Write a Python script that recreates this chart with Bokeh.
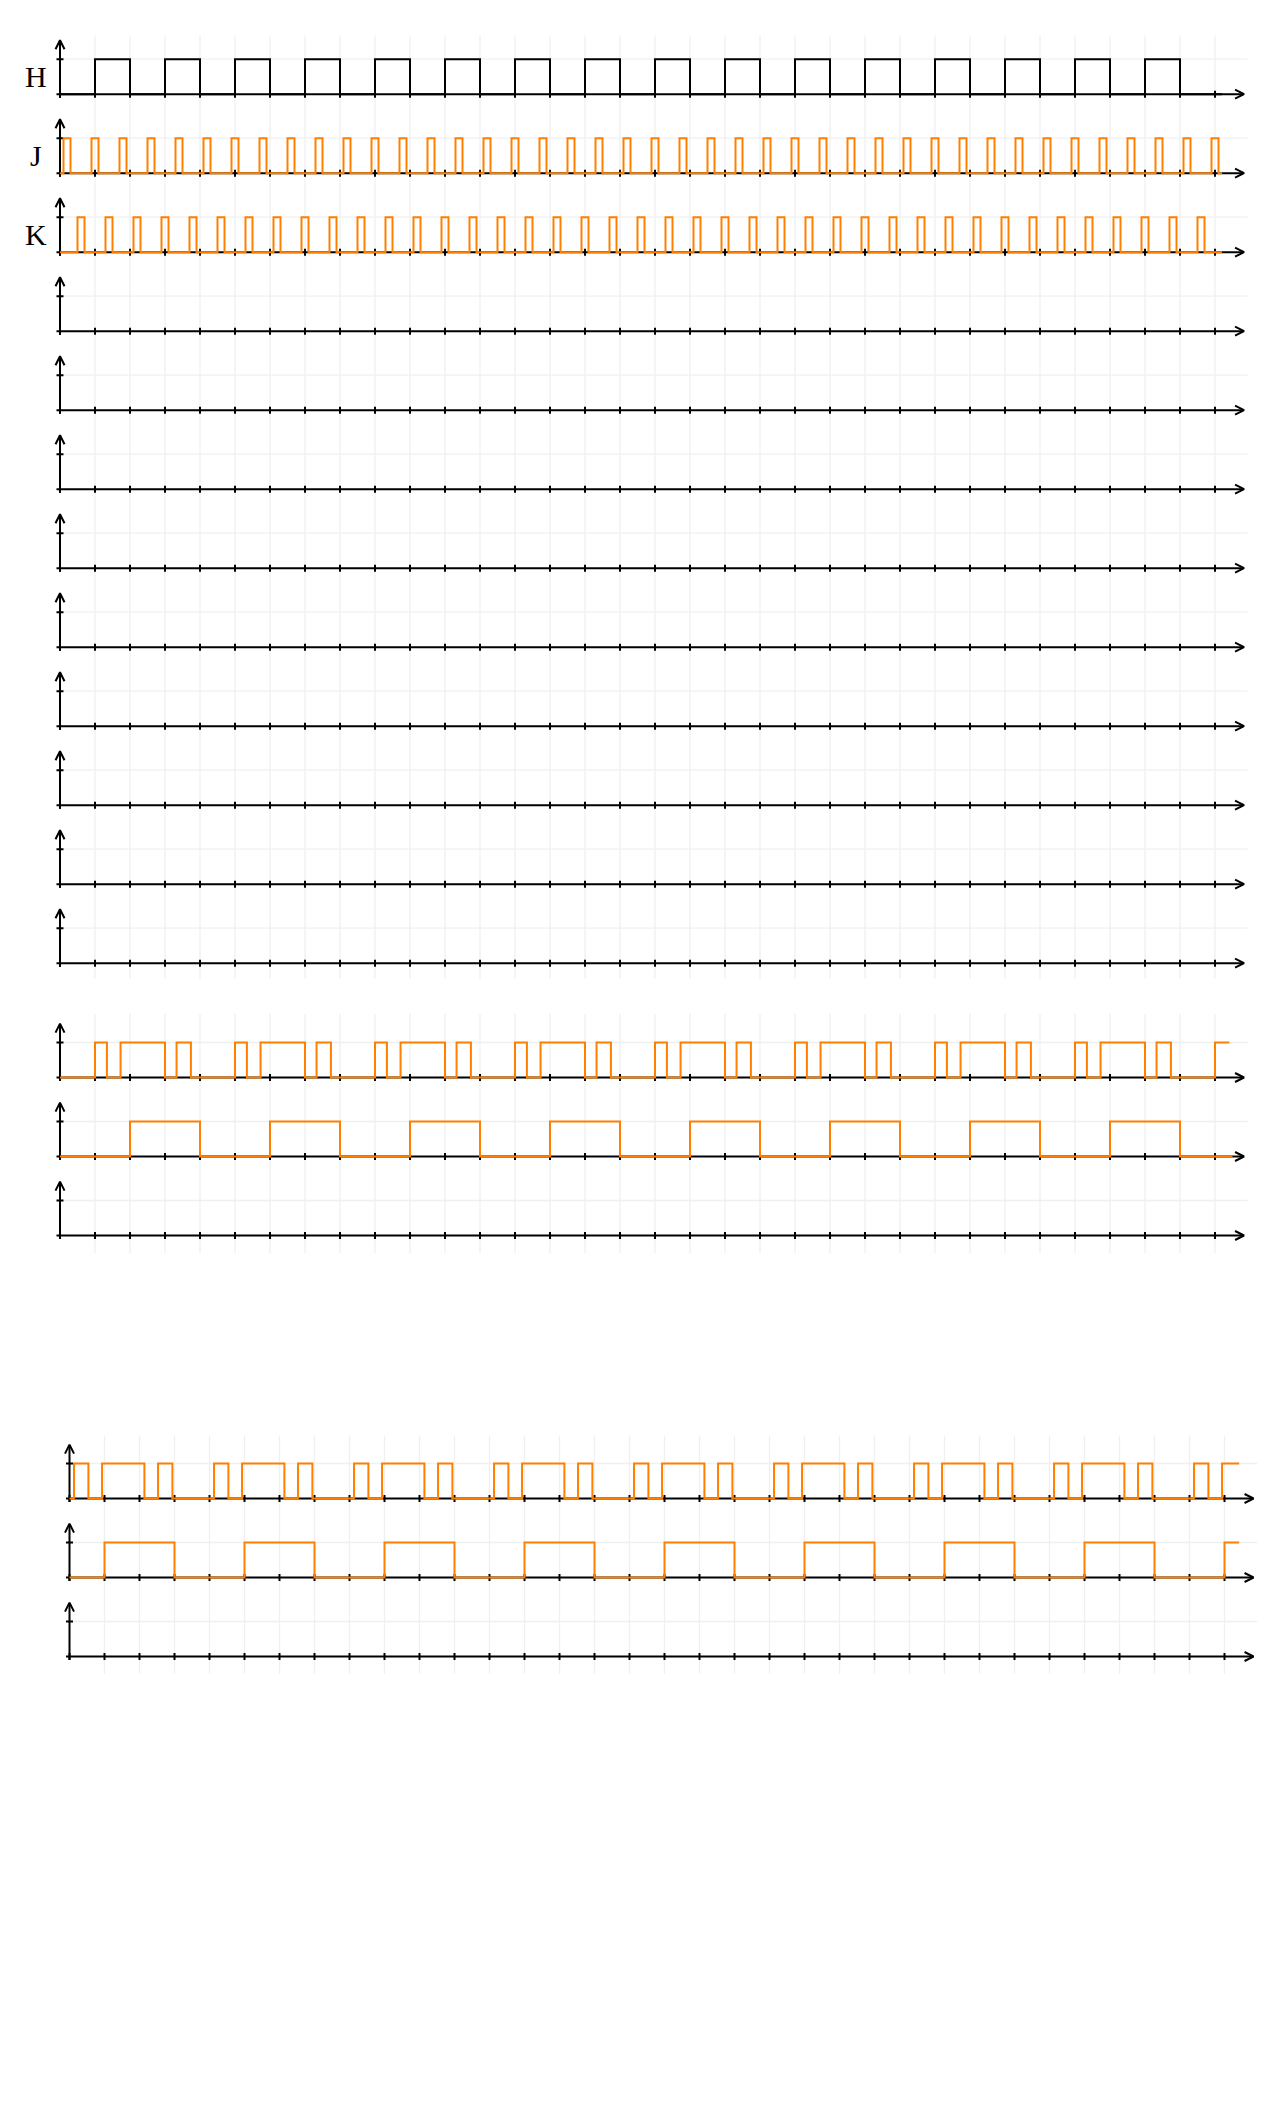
from bokeh.plotting import figure
from bokeh.models import Range1d, Arrow, OpenHead
from bokeh.core.properties import value
from bokeh.embed import file_html
from bokeh.resources import INLINE

# ---------------- data (time in clock units, levels 0/1) ----------------
labels = ["H", "J", "K"]
x_ticks = list(range(34))

H_rise = [1, 3, 5, 7, 9, 11, 13, 15, 17, 19, 21, 23, 25, 27, 29, 31]
H_fall = [2, 4, 6, 8, 10, 12, 14, 16, 18, 20, 22, 24, 26, 28, 30, 32]

J_rise = [0.1, 0.9, 1.7, 2.5, 3.3, 4.1, 4.9, 5.7, 6.5, 7.3, 8.1, 8.9, 9.7, 10.5,
          11.3, 12.1, 12.9, 13.7, 14.5, 15.3, 16.1, 16.9, 17.7, 18.5, 19.3, 20.1,
          20.9, 21.7, 22.5, 23.3, 24.1, 24.9, 25.7, 26.5, 27.3, 28.1, 28.9, 29.7,
          30.5, 31.3, 32.1, 32.9]
J_fall = [0.3, 1.1, 1.9, 2.7, 3.5, 4.3, 5.1, 5.9, 6.7, 7.5, 8.3, 9.1, 9.9, 10.7,
          11.5, 12.3, 13.1, 13.9, 14.7, 15.5, 16.3, 17.1, 17.9, 18.7, 19.5, 20.3,
          21.1, 21.9, 22.7, 23.5, 24.3, 25.1, 25.9, 26.7, 27.5, 28.3, 29.1, 29.9,
          30.7, 31.5, 32.3, 33.1]

K_rise = [0.5, 1.3, 2.1, 2.9, 3.7, 4.5, 5.3, 6.1, 6.9, 7.7, 8.5, 9.3, 10.1, 10.9,
          11.7, 12.5, 13.3, 14.1, 14.9, 15.7, 16.5, 17.3, 18.1, 18.9, 19.7, 20.5,
          21.3, 22.1, 22.9, 23.7, 24.5, 25.3, 26.1, 26.9, 27.7, 28.5, 29.3, 30.1,
          30.9, 31.7, 32.5]
K_fall = [0.7, 1.5, 2.3, 3.1, 3.9, 4.7, 5.5, 6.3, 7.1, 7.9, 8.7, 9.5, 10.3, 11.1,
          11.9, 12.7, 13.5, 14.3, 15.1, 15.9, 16.7, 17.5, 18.3, 19.1, 19.9, 20.7,
          21.5, 22.3, 23.1, 23.9, 24.7, 25.5, 26.3, 27.1, 27.9, 28.7, 29.5, 30.3,
          31.1, 31.9, 32.7]

# second block, row 1 and row 2
A_rise = [1, 1.73, 3.33, 5, 5.73, 7.33, 9, 9.73, 11.33, 13, 13.73, 15.33, 17,
          17.73, 19.33, 21, 21.73, 23.33, 25, 25.73, 27.33, 29, 29.73, 31.33, 33]
A_fall = [1.34, 3, 3.74, 5.34, 7, 7.74, 9.34, 11, 11.74, 13.34, 15, 15.74, 17.34,
          19, 19.74, 21.34, 23, 23.74, 25.34, 27, 27.74, 29.34, 31, 31.74]
B_rise = [2, 6, 10, 14, 18, 22, 26, 30]
B_fall = [4, 8, 12, 16, 20, 24, 28, 32]

# third block, row 1 and row 2
C_rise = [0.13, 0.93, 2.53, 4.13, 4.93, 6.53, 8.13, 8.93, 10.53, 12.13, 12.93,
          14.53, 16.13, 16.93, 18.53, 20.13, 20.93, 22.53, 24.13, 24.93, 26.53,
          28.13, 28.93, 30.53, 32.13, 32.93]
C_fall = [0.54, 2.14, 2.94, 4.54, 6.14, 6.94, 8.54, 10.14, 10.94, 12.54, 14.14,
          14.94, 16.54, 18.14, 18.94, 20.54, 22.14, 22.94, 24.54, 26.14, 26.94,
          28.54, 30.14, 30.94, 32.54]
D_rise = [1, 5, 9, 13, 17, 21, 25, 29, 33]
D_fall = [3, 7, 11, 15, 19, 23, 27, 31]

# ---------------- layout ----------------
W, HP = 1272, 2108
U = 35.0
X0 = 59.5   # x origin of blocks 1 and 2 (px)
X3 = 69.0   # x origin of block 3 (px)
ORANGE = "#ff8000"
GRID = "#f0f0f0"
LW = 2

p = figure(width=W, height=HP, output_backend="svg", toolbar_location=None,
           x_range=Range1d(-X0 / U, (W - X0) / U), y_range=Range1d(-HP / U, 0),
           min_border=0, x_axis_location=None, y_axis_location=None,
           outline_line_color=None, background_fill_color="white",
           border_fill_color="white")
p.extra_x_ranges = {"g3": Range1d(-X3 / U, (W - X3) / U)}
p.xgrid.grid_line_color = None
p.ygrid.grid_line_color = None


def wave(rises, falls, end_x, start=0):
    edges = sorted([(t, 1) for t in rises] + [(t, 0) for t in falls])
    xs, ys, cur = [0], [start], start
    for t, lv in edges:
        xs += [t, t]
        ys += [cur, lv]
        cur = lv
    xs.append(end_x)
    ys.append(cur)
    return xs, ys


def yb(px):
    return -px / U


def draw_block(baselines_px, top_px, bottom_px, xr):
    # vertical grid
    p.segment(x0=x_ticks[1:], x1=x_ticks[1:], y0=[yb(top_px)] * 33,
              y1=[yb(bottom_px)] * 33, line_color=GRID, line_width=1.3,
              x_range_name=xr)
    for bpx in baselines_px:
        b = yb(bpx)
        p.line([0, 33.93], [b + 1, b + 1], line_color=GRID, line_width=1.3,
               x_range_name=xr)
        p.segment(x0=x_ticks, x1=x_ticks, y0=[b - 0.1] * 34, y1=[b + 0.1] * 34,
                  line_color="black", line_width=LW, x_range_name=xr)
        p.segment(x0=[-0.1], x1=[0.1], y0=[b + 1], y1=[b + 1],
                  line_color="black", line_width=LW, x_range_name=xr)
        p.add_layout(Arrow(end=OpenHead(size=9, line_width=LW, line_color="black"),
                           x_start=-0.1, y_start=b, x_end=33.83, y_end=b,
                           line_width=LW, line_color="black", x_range_name=xr))
        p.add_layout(Arrow(end=OpenHead(size=9, line_width=LW, line_color="black"),
                           x_start=0, y_start=b - 0.1, x_end=0, y_end=b + 1.54,
                           line_width=LW, line_color="black", x_range_name=xr))


def draw_signal(bpx, rises, falls, end_x, color, xr):
    xs, ys = wave(rises, falls, end_x)
    b = yb(bpx)
    r = p.line(xs, [b + v for v in ys], line_color=color, line_width=LW,
               line_join="miter", x_range_name=xr)
    r.level = "overlay"


g1 = [93.67 + 79 * i for i in range(12)]
g2 = [1077 + 79 * i for i in range(3)]
g3 = [1498 + 79 * i for i in range(3)]

draw_block(g1, 35, 978.3, "default")
draw_block(g2, 1013.3, 1252.7, "default")
draw_block(g3, 1435, 1673.3, "g3")

draw_signal(g1[0], H_rise, H_fall, 33.2, "black", "default")
draw_signal(g1[1], J_rise, J_fall, 33.2, ORANGE, "default")
draw_signal(g1[2], K_rise, K_fall, 33.2, ORANGE, "default")
draw_signal(g2[0], A_rise, A_fall, 33.41, ORANGE, "default")
draw_signal(g2[1], B_rise, B_fall, 33.5, ORANGE, "default")
draw_signal(g3[0], C_rise, C_fall, 33.42, ORANGE, "g3")
draw_signal(g3[1], D_rise, D_fall, 33.42, ORANGE, "g3")

p.text(x=[-0.69] * 3, y=[yb(b) + 0.5 for b in g1[:3]], text=labels,
       text_font=value("Liberation Serif"), text_font_size="30px",
       text_align="center", text_baseline="middle", text_color="black")

open("out.html", "w").write(file_html(p, INLINE))
